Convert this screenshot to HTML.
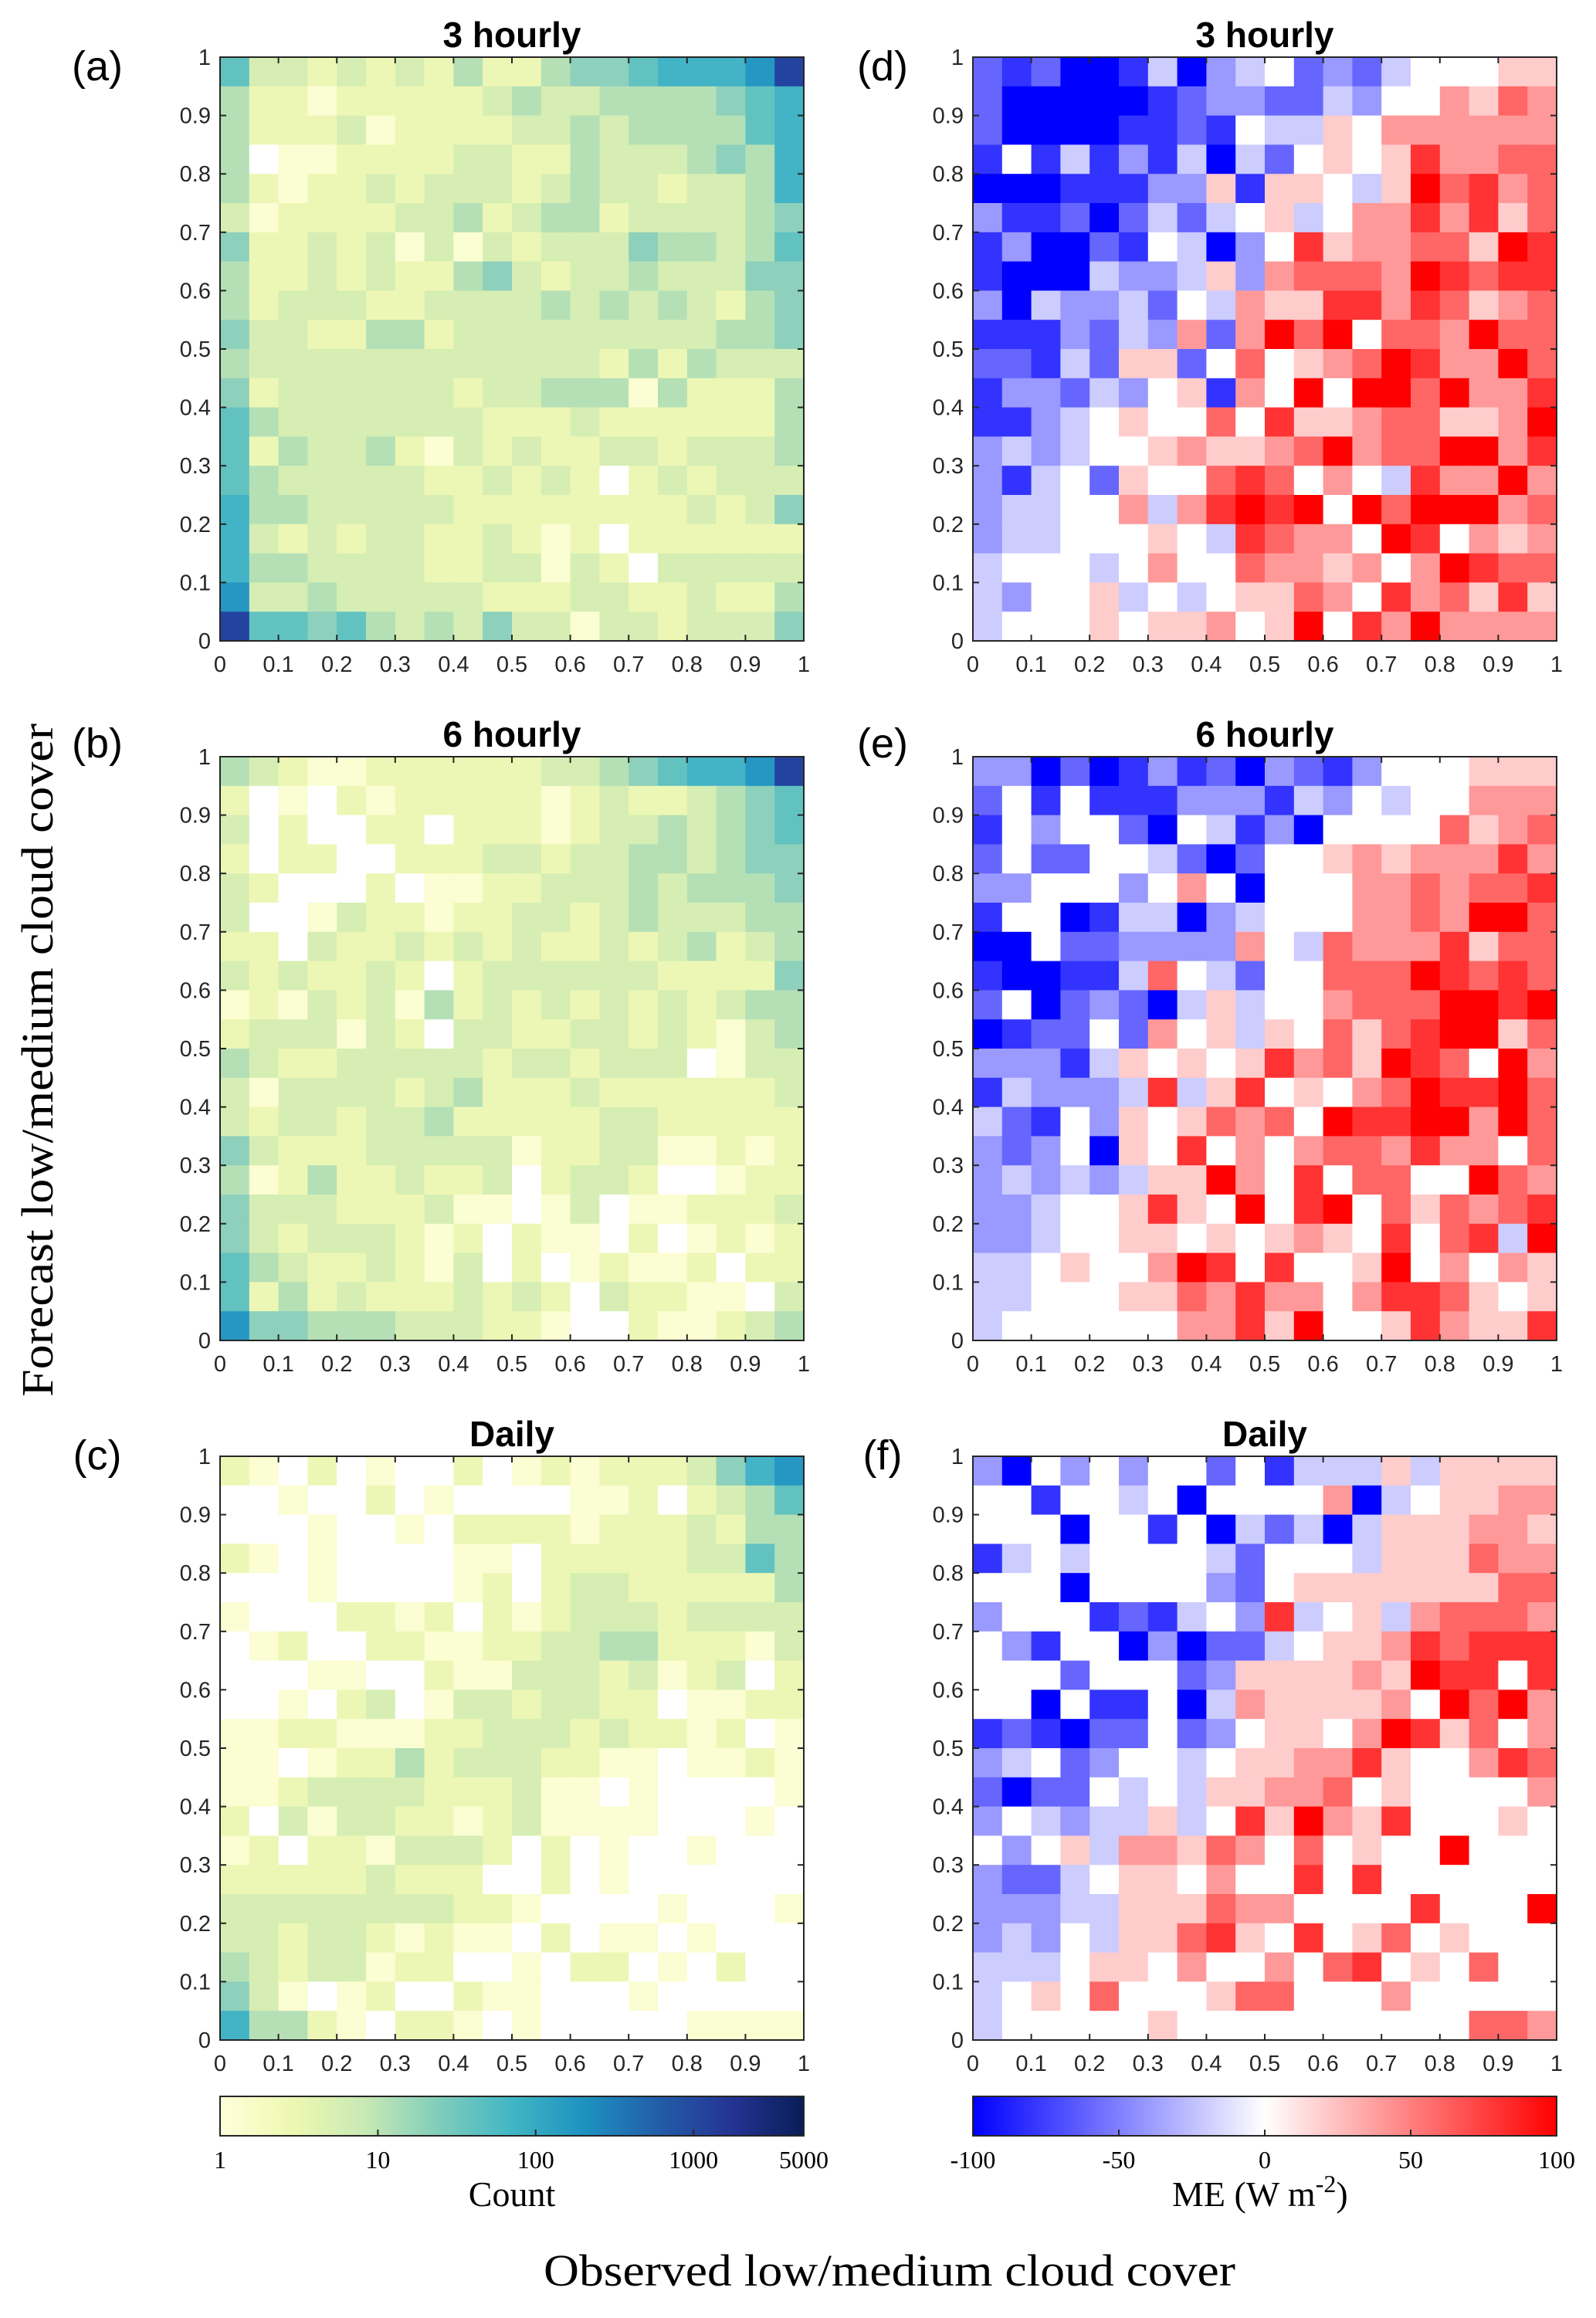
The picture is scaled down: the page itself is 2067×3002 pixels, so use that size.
<!DOCTYPE html>
<html><head><meta charset="utf-8"><style>
html,body{margin:0;padding:0;background:#fff;}
svg{display:block;}
</style></head><body>
<svg id="fig" xmlns="http://www.w3.org/2000/svg" width="2067" height="3002" viewBox="0 0 2067 3002">
<defs>
<linearGradient id="gCount" x1="0" x2="1" y1="0" y2="0">
<stop offset="0" stop-color="#ffffd9"/><stop offset="0.125" stop-color="#edf8b1"/><stop offset="0.25" stop-color="#c7e9b4"/><stop offset="0.375" stop-color="#7fcdbb"/><stop offset="0.5" stop-color="#41b6c4"/><stop offset="0.625" stop-color="#1d91c0"/><stop offset="0.75" stop-color="#225ea8"/><stop offset="0.875" stop-color="#253494"/><stop offset="1" stop-color="#081d58"/>
</linearGradient>
<linearGradient id="gME" x1="0" x2="1" y1="0" y2="0">
<stop offset="0" stop-color="#0000ff"/><stop offset="0.5" stop-color="#ffffff"/><stop offset="1" stop-color="#ff0000"/>
</linearGradient>
</defs>
<g id="layer"></g>
</svg>
<script>
// Count levels (0 = empty, 1..9 = log-count level), rows from top (y=1) to bottom (y=0)
const countA = [
"63323232422455677789","42212222234334444567","42223122223343444467","40112222332243334547",
"42122323332343323347","31222233423442333345","52232313132333544346","42232322453233433355",
"42333223333434343245","53322442333333333445","43333333333332424333","52333333233444142224",
"64333333322232222224","62433421323223323334","64333332232320232333","74433333222222223235",
"73232332232120222222","74433332233132033333","83343333322233223224","96656434353313323335"];
const countB = [
"43211222222334567789","20102122222123223456","30200220222123343456","20220022233233443455",
"32000201122333434445","30013221223323433344","22032232323223234234","32322320233333322225",
"12132314232323232344","23331320332233232134","43223333323323330133","31333323422232222223",
"32332334222223322222","53222333331223311212","41242232230233200122","53332223110130112223",
"53233321202110201212","64322321302012112022","62423222323203221103","85544433322100211234"];
const countC = [
"21020100201212223578","00100201000011202346","00010010222212223244","21010000110222223364",
"00010000120233222224","10002212021233323333","01200221122334422213","00011002113332312302",
"00102301332332201122","11221112233323221201","11012242333221101121","11233332223110100001",
"20313322123111100010","12022133320201001000","22222322200201000000","33333333221000010001",
"33233212110201101000","43233122001022010200","53101200211000100000","74421022101000001111"];
// ME levels: A=-100 ... F=0 ... K=+100 (steps of 20 W m-2)
const meD = [
"CBCAABEADEFCDCEFFFGG","CAAAAABCDDCCEDFFHGIH","CAAAABBCBFEEGFHHHHHH","BFBEBDBEAECFGFGJHHII",
"AAABBBDDGBGGFEGKIJHI","DBBCACECEFGEFHHJHJGI","BDAACBFEADFJGHHIIGKJ","BAAAEDDEGDHIIIHKJIJJ",
"DAEDDECFEHGGJJHJIGHI","BBBDCEDHCHKIKFIIHKII","CCBECGGCFIFGHIKJHHKI","BDDCEDFGBHFKFKKIKHHJ",
"BBDEFGFFIFJGGHIIGGHK","DEDEFFGHGGHIKHIIKKHJ","DBEFCGFFIJIFHFEJHHKH","DEEFFHEHJKJKFKIKKKHI",
"DEEFFFGFEJIHHFKJFHGH","EFFFEFHFFIHHGHFHKJII","EDFFGEFEFGGIHFJHIGJG","EFFFGFGGHFGKFJHKHHHH"];
const meE = [
"DDACABDBCADCBDFFFGGG","CFBFBBBDDDBEDFEFFHHH","BFDFFCAFEBDAFFFFIGHI","CFCCFFECACFFGHGHHHJH",
"DDFFFDFHFAFFFHHIHIIJ","BFFABEEADEFFFHHIHKKI","AAFCCDDDDHFEIHHHJGII","BAABBEIFECFFIIIKJIJI",
"CFACDCAEGEFFHIIIKKJK","ABCCFCHFGEGFIGIJKKGI","DDDBEGFGFGJHIGKJIFKH","BEDDDEJEGJFGFHIKJJKI",
"ECBFDGFGIHIFKJJKKHKI","DCDFAGFJFHFHIIHJHHFI","DEDEDEGGKHFJFIIFFKIH","DDEFFGJGFKFJKFIGIHIJ",
"DDEFFGGFGFGHGFJFIJEK","EEFGFFHKJFJFFGKFHFHG","EEFFFGGIHJHHFHJJIGFG","EFFFFFFHHJGKFFGJHGGJ"];
const meF = [
"DAFDFDFFCFBEEEGEGGGG","FFBFFEFAFFFFHAEFGGHH","FFFAFFBFAECEAEGGGHHG","BEFEFFFFECFFFEGGGIHH",
"FFFAFFFFDCFGGGGGGGII","DFFFBCBEFDJEFGEHIIIH","FDBFFADACCEFGGHJIJJJ","FFFCFFFCDGGGGHGKJJFJ",
"FFAFBBFAEHGGGGHFKIKH","BCBACCFCDFGGFHKJGIFH","DEFCDFFEFGGHHJGFFHJI","CACCFEFEGGHHIFGFFFFH",
"DFEDEEGEFJGKHGJFFFGF","FDFGEHHGIHFIFGFFKFFF","DCCEFGGFHFFJFJFFFFFF","DDDEEGGGIHHFFFFJFFFK",
"DEDFEGGIJGFJFGIFGFFF","EEEFGGFHFFHFIJFGFIFF","EFGFIFFFGIIFFFHFFFFF","EFFFFFGFFFFFFFFFFIIH"];
const xTicks = ["0","0.1","0.2","0.3","0.4","0.5","0.6","0.7","0.8","0.9","1"];
const yTicks = ["0","0.1","0.2","0.3","0.4","0.5","0.6","0.7","0.8","0.9","1"];
const countTickVals = [1,10,100,1000,5000];
const countTickLabels = ["1","10","100","1000","5000"];
const meTickVals = [-100,-50,0,50,100];
const meTickLabels = ["-100","-50","0","50","100"];

const NS="http://www.w3.org/2000/svg";
const layer=document.getElementById('layer');
function mk(tag,attrs,parent){const e=document.createElementNS(NS,tag);for(const k in attrs)e.setAttribute(k,attrs[k]);(parent||layer).appendChild(e);return e;}

const countPal=["#ffffff","#fbfdd2","#edf7b5","#d6eeb3","#b5e0b6","#8dd0bc","#62c2c0","#43b3c6","#2597c2","#2443a0"];
function countColor(ch){return countPal[parseInt(ch,10)];}
function meValue(ch){return (ch.charCodeAt(0)-70)*20;}
function meColor(v){
  const t=Math.max(-1,Math.min(1,v/100));
  let r,g,b;
  if(t<0){r=Math.round(255*(1+t));g=r;b=255;}else{r=255;g=Math.round(255*(1-t));b=g;}
  return "rgb("+r+","+g+","+b+")";
}

const W=756,H=756;
function panel(id,x0,y0,rows,colorFn,title,label,labelX,labelY){
  const g=mk('g',{});
  
  
  const xs=v=>x0+v*W, ys=v=>y0+H-v*H;
  const n=rows.length;
  rows.forEach((row,ri)=>{
    for(let ci=0;ci<row.length;ci++){
      const yv=1-(ri+1)/n, xv=ci/row.length;
      const r=mk('rect',{x:xs(xv),y:ys(yv+1/n),width:W/row.length+0.5,height:H/n+0.5,fill:colorFn(row[ci])},g);
      
      
    }
  });
  const fr=mk('rect',{x:x0,y:y0,width:W,height:H,fill:'none',stroke:'#262626','stroke-width':2},g);
  
  
  for(let i=0;i<xTicks.length;i++){
    const v=i/10;
    mk('line',{x1:xs(v),x2:xs(v),y1:y0+H,y2:y0+H-8,stroke:'#262626','stroke-width':2},g);
    mk('line',{x1:xs(v),x2:xs(v),y1:y0,y2:y0+8,stroke:'#262626','stroke-width':2},g);
    mk('line',{x1:x0,x2:x0+8,y1:ys(v),y2:ys(v),stroke:'#262626','stroke-width':2},g);
    mk('line',{x1:x0+W,x2:x0+W-8,y1:ys(v),y2:ys(v),stroke:'#262626','stroke-width':2},g);
    const tx=mk('text',{x:xs(v),y:y0+H+40,'text-anchor':'middle','font-size':29,'font-family':'Liberation Sans, sans-serif',fill:'#262626'},g);
    tx.textContent=xTicks[i];
    
    
    const ty=mk('text',{x:x0-12,y:ys(v)+10,'text-anchor':'end','font-size':29,'font-family':'Liberation Sans, sans-serif',fill:'#262626'},g);
    ty.textContent=yTicks[i];
    
    
  }
  const t=mk('text',{x:x0+W/2,y:y0-13,'text-anchor':'middle','font-size':46,'font-weight':'bold','font-family':'Liberation Sans, sans-serif',fill:'#000'},g);
  t.textContent=title;
  
  
  const l=mk('text',{x:labelX,y:labelY,'text-anchor':'middle','font-size':54,'font-family':'Liberation Sans, sans-serif',fill:'#000'},g);
  l.textContent=label;
  
  
}
const LX=285, RX=1260;
panel('panel-a-count-3hourly',LX,74,countA,countColor,'3 hourly','(a)',126,104);
panel('panel-b-count-6hourly',LX,980,countB,countColor,'6 hourly','(b)',126,981);
panel('panel-c-count-daily',LX,1886,countC,countColor,'Daily','(c)',126,1903);
const meC=ch=>meColor(meValue(ch));
panel('panel-d-me-3hourly',RX,74,meD,meC,'3 hourly','(d)',1143,104);
panel('panel-e-me-6hourly',RX,980,meE,meC,'6 hourly','(e)',1143,981);
panel('panel-f-me-daily',RX,1886,meF,meC,'Daily','(f)',1143,1903);

// Colorbars
function colorbar(id,x0,grad,vals,labels,scaleFn){
  const g=mk('g',{});
  
  
  const y0=2715,h=51;
  mk('rect',{x:x0,y:y0,width:W,height:h,fill:'url(#'+grad+')',stroke:'#262626','stroke-width':2},g);
  vals.forEach((v,i)=>{
    const x=x0+scaleFn(v)*W;
    mk('line',{x1:x,x2:x,y1:y0+h,y2:y0+h-8,stroke:'#262626','stroke-width':2},g);
    const t=mk('text',{x:x,y:2808,'text-anchor':'middle','font-size':32,'font-family':'Liberation Serif, serif',fill:'#000'},g);
    t.textContent=labels[i];
    
    
  });
  return g;
}
colorbar('count-colorbar',LX,'gCount',countTickVals,countTickLabels,v=>Math.log(v)/Math.log(5000));
colorbar('me-colorbar',RX,'gME',meTickVals,meTickLabels,v=>(v+100)/200);
</script>
<script>
(function(){
const NS="http://www.w3.org/2000/svg";const svg=document.getElementById('fig');
function t(txt,attrs,name){const e=document.createElementNS(NS,'text');for(const k in attrs)e.setAttribute(k,attrs[k]);e.textContent=txt;


svg.appendChild(e);return e;}
t('Count',{x:663,y:2857,'text-anchor':'middle','font-size':46,'font-family':'Liberation Serif, serif',fill:'#000'},'count-colorbar-title');
const me=t('ME (W m',{x:1518,y:2857,'font-size':46,'font-family':'Liberation Serif, serif',fill:'#000'},'me-colorbar-title');
const sup=document.createElementNS(NS,'tspan');sup.setAttribute('dy','-18');sup.setAttribute('font-size','32');sup.textContent='-2';me.appendChild(sup);
const cl=document.createElementNS(NS,'tspan');cl.setAttribute('dy','18');cl.textContent=')';me.appendChild(cl);
t('Observed low/medium cloud cover',{x:1152,y:2960,'text-anchor':'middle','font-size':58,'font-family':'Liberation Serif, serif',fill:'#000',textLength:896,lengthAdjust:'spacingAndGlyphs'},'x-axis-title');
t('Forecast low/medium cloud cover',{x:0,y:0,'text-anchor':'middle','font-size':58,'font-family':'Liberation Serif, serif',fill:'#000',textLength:872,lengthAdjust:'spacingAndGlyphs',transform:'translate(68,1373) rotate(-90)'},'y-axis-title');
})();
</script>
</body></html>
